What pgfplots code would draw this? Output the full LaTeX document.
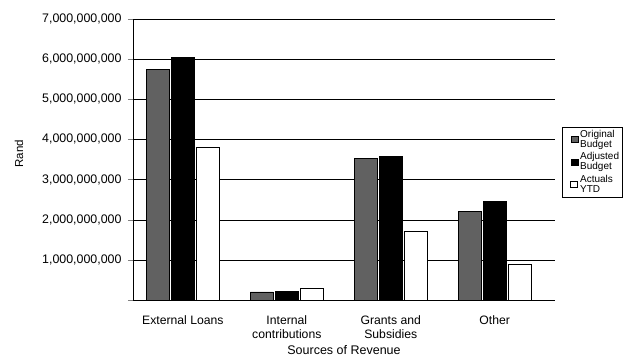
\documentclass[border=0pt]{standalone}
\usepackage{pgfplots}
\pgfplotsset{compat=1.18}
\usepackage{fontspec}
\setmainfont{Liberation Sans}
\begin{document}
\begin{tikzpicture}
\begin{axis}[
  scale only axis, width=422pt, height=281pt,
  ybar, bar width=23pt, bar shift auto,
  xmin=-0.48, xmax=3.58, ymin=0, ymax=7000000000,
  axis x line*=bottom, axis y line*=left,
  xtick=data,
  xticklabels={External Loans, Internal\\contributions, Grants and\\Subsidies, Other},
  xticklabel style={align=center, font=\fontsize{12.2}{14}\selectfont, yshift=-7pt, anchor=north},
  major x tick style={draw=none},
  ytick={0,1000000000,2000000000,3000000000,4000000000,5000000000,6000000000,7000000000},
  yticklabels={,{1,000,000,000},{2,000,000,000},{3,000,000,000},{4,000,000,000},{5,000,000,000},{6,000,000,000},{7,000,000,000}},
  yticklabel style={font=\fontsize{12.4}{13}\selectfont, xshift=-3pt},
  scaled y ticks=false,
  ymajorgrids, grid style={black, thin},
  tick align=outside, major tick length=5pt,
  ylabel={Rand}, ylabel style={font=\fontsize{11.5}{12}\selectfont, at={(axis description cs:-0.252,0.52)}},
  xlabel={Sources of Revenue}, xlabel style={font=\fontsize{12.5}{13}\selectfont, at={(axis description cs:0.5,-0.15)}},
  legend style={at={(1.017,0.616)}, anchor=north west, font=\fontsize{10}{9.8}\selectfont, draw=black, inner sep=1pt, row sep=0pt, cells={align=left}},
  legend cell align=left,
  legend image code/.code={\path (0pt,0pt); \draw[#1] (7pt,-3pt) rectangle (14pt,3pt);},
]
\addplot[draw=black, fill=black!62] coordinates {(0,5750000000) (1,200000000) (2,3520000000) (3,2200000000)};
\addplot[draw=black, fill=black] coordinates {(0,6050000000) (1,220000000) (2,3570000000) (3,2450000000)};
\addplot[draw=black, fill=white, line width=0.8pt] coordinates {(0,3800000000) (1,300000000) (2,1700000000) (3,880000000)};
\legend{Original\\Budget, Adjusted\\Budget, Actuals\\YTD}
\end{axis}
\path (current axis.south west) ++(-133pt,-62pt) rectangle ++(633pt,362pt);
\end{tikzpicture}
\end{document}
